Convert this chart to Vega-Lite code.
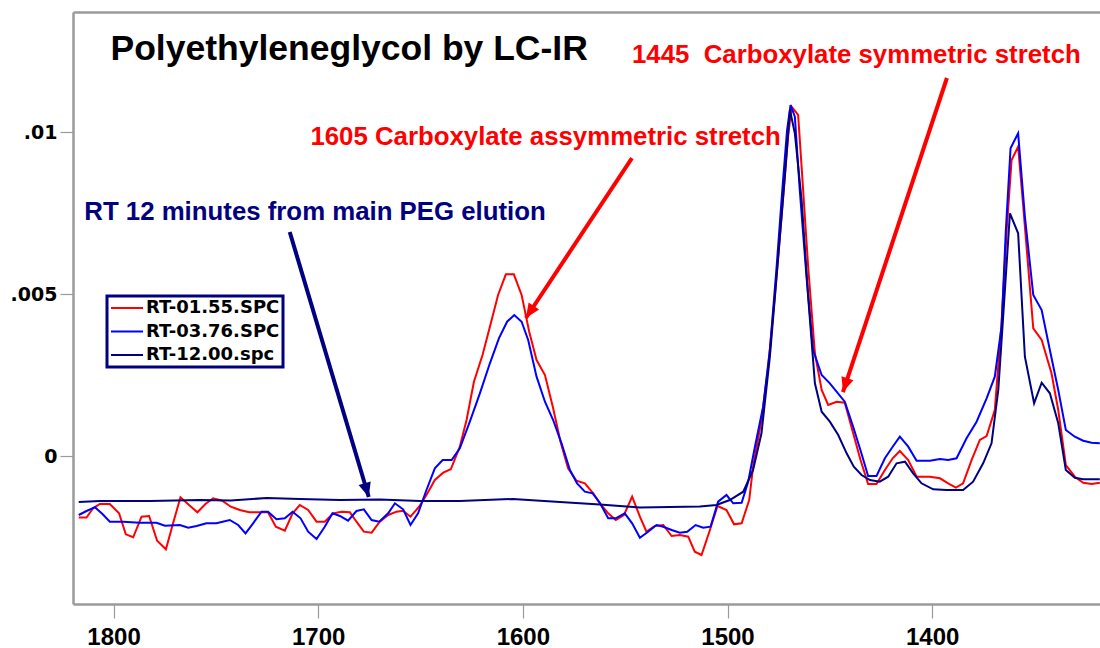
{
"$schema": "https://vega.github.io/schema/vega-lite/v6.json",
"width": 1027, "height": 592,
"autosize": {"type": "none"},
"padding": {"left": 73, "top": 12, "right": 0, "bottom": 44},
"background": "white",
"datasets": {
"spectra": [
{"wn":1817.0,"abs":-0.0019,"series":"RT-01.55.SPC"},{"wn":1813.2,"abs":-0.0019,"series":"RT-01.55.SPC"},{"wn":1810.0,"abs":-0.001614,"series":"RT-01.55.SPC"},{"wn":1806.7,"abs":-0.001481,"series":"RT-01.55.SPC"},{"wn":1801.8,"abs":-0.00148,"series":"RT-01.55.SPC"},{"wn":1797.3,"abs":-0.001769,"series":"RT-01.55.SPC"},{"wn":1794.0,"abs":-0.002417,"series":"RT-01.55.SPC"},{"wn":1790.4,"abs":-0.002509,"series":"RT-01.55.SPC"},{"wn":1786.3,"abs":-0.001873,"series":"RT-01.55.SPC"},{"wn":1782.6,"abs":-0.001852,"series":"RT-01.55.SPC"},{"wn":1778.7,"abs":-0.002614,"series":"RT-01.55.SPC"},{"wn":1774.4,"abs":-0.00288,"series":"RT-01.55.SPC"},{"wn":1770.9,"abs":-0.002077,"series":"RT-01.55.SPC"},{"wn":1767.3,"abs":-0.001275,"series":"RT-01.55.SPC"},{"wn":1763.1,"abs":-0.001512,"series":"RT-01.55.SPC"},{"wn":1759.0,"abs":-0.001738,"series":"RT-01.55.SPC"},{"wn":1755.1,"abs":-0.001481,"series":"RT-01.55.SPC"},{"wn":1751.3,"abs":-0.001306,"series":"RT-01.55.SPC"},{"wn":1746.9,"abs":-0.00138,"series":"RT-01.55.SPC"},{"wn":1742.7,"abs":-0.001565,"series":"RT-01.55.SPC"},{"wn":1738.3,"abs":-0.001667,"series":"RT-01.55.SPC"},{"wn":1733.7,"abs":-0.001738,"series":"RT-01.55.SPC"},{"wn":1728.5,"abs":-0.001738,"series":"RT-01.55.SPC"},{"wn":1724.5,"abs":-0.001738,"series":"RT-01.55.SPC"},{"wn":1720.7,"abs":-0.002182,"series":"RT-01.55.SPC"},{"wn":1716.3,"abs":-0.002306,"series":"RT-01.55.SPC"},{"wn":1712.5,"abs":-0.001769,"series":"RT-01.55.SPC"},{"wn":1709.0,"abs":-0.001512,"series":"RT-01.55.SPC"},{"wn":1704.9,"abs":-0.001667,"series":"RT-01.55.SPC"},{"wn":1700.8,"abs":-0.002028,"series":"RT-01.55.SPC"},{"wn":1696.8,"abs":-0.002028,"series":"RT-01.55.SPC"},{"wn":1692.7,"abs":-0.001769,"series":"RT-01.55.SPC"},{"wn":1688.6,"abs":-0.001719,"series":"RT-01.55.SPC"},{"wn":1684.5,"abs":-0.001738,"series":"RT-01.55.SPC"},{"wn":1681.3,"abs":-0.002028,"series":"RT-01.55.SPC"},{"wn":1677.7,"abs":-0.002336,"series":"RT-01.55.SPC"},{"wn":1673.9,"abs":-0.002367,"series":"RT-01.55.SPC"},{"wn":1669.9,"abs":-0.002028,"series":"RT-01.55.SPC"},{"wn":1665.8,"abs":-0.001821,"series":"RT-01.55.SPC"},{"wn":1661.7,"abs":-0.001719,"series":"RT-01.55.SPC"},{"wn":1658.5,"abs":-0.001688,"series":"RT-01.55.SPC"},{"wn":1654.9,"abs":-0.001873,"series":"RT-01.55.SPC"},{"wn":1650.7,"abs":-0.001565,"series":"RT-01.55.SPC"},{"wn":1647.1,"abs":-0.001204,"series":"RT-01.55.SPC"},{"wn":1643.0,"abs":-0.000741,"series":"RT-01.55.SPC"},{"wn":1638.9,"abs":-0.000515,"series":"RT-01.55.SPC"},{"wn":1635.2,"abs":-0.00041,"series":"RT-01.55.SPC"},{"wn":1630.8,"abs":0.000287,"series":"RT-01.55.SPC"},{"wn":1627.5,"abs":0.001111,"series":"RT-01.55.SPC"},{"wn":1623.9,"abs":0.002293,"series":"RT-01.55.SPC"},{"wn":1619.7,"abs":0.003117,"series":"RT-01.55.SPC"},{"wn":1616.1,"abs":0.003991,"series":"RT-01.55.SPC"},{"wn":1612.1,"abs":0.004969,"series":"RT-01.55.SPC"},{"wn":1608.3,"abs":0.005608,"series":"RT-01.55.SPC"},{"wn":1604.4,"abs":0.005608,"series":"RT-01.55.SPC"},{"wn":1600.6,"abs":0.004969,"series":"RT-01.55.SPC"},{"wn":1596.9,"abs":0.003836,"series":"RT-01.55.SPC"},{"wn":1593.3,"abs":0.002963,"series":"RT-01.55.SPC"},{"wn":1589.2,"abs":0.0025,"series":"RT-01.55.SPC"},{"wn":1585.2,"abs":0.001472,"series":"RT-01.55.SPC"},{"wn":1581.6,"abs":0.000441,"series":"RT-01.55.SPC"},{"wn":1577.9,"abs":-0.00038,"series":"RT-01.55.SPC"},{"wn":1573.8,"abs":-0.000762,"series":"RT-01.55.SPC"},{"wn":1569.7,"abs":-0.000843,"series":"RT-01.55.SPC"},{"wn":1565.6,"abs":-0.001151,"series":"RT-01.55.SPC"},{"wn":1562.4,"abs":-0.00146,"series":"RT-01.55.SPC"},{"wn":1558.3,"abs":-0.001769,"series":"RT-01.55.SPC"},{"wn":1554.6,"abs":-0.001975,"series":"RT-01.55.SPC"},{"wn":1550.6,"abs":-0.001821,"series":"RT-01.55.SPC"},{"wn":1546.6,"abs":-0.001256,"series":"RT-01.55.SPC"},{"wn":1542.8,"abs":-0.001873,"series":"RT-01.55.SPC"},{"wn":1539.6,"abs":-0.002336,"series":"RT-01.55.SPC"},{"wn":1535.5,"abs":-0.00216,"series":"RT-01.55.SPC"},{"wn":1531.4,"abs":-0.00213,"series":"RT-01.55.SPC"},{"wn":1527.3,"abs":-0.002469,"series":"RT-01.55.SPC"},{"wn":1523.3,"abs":-0.002438,"series":"RT-01.55.SPC"},{"wn":1519.2,"abs":-0.002491,"series":"RT-01.55.SPC"},{"wn":1516.0,"abs":-0.002954,"series":"RT-01.55.SPC"},{"wn":1512.7,"abs":-0.003056,"series":"RT-01.55.SPC"},{"wn":1508.6,"abs":-0.002284,"series":"RT-01.55.SPC"},{"wn":1504.9,"abs":-0.001543,"series":"RT-01.55.SPC"},{"wn":1500.5,"abs":-0.001667,"series":"RT-01.55.SPC"},{"wn":1496.8,"abs":-0.002108,"series":"RT-01.55.SPC"},{"wn":1493.1,"abs":-0.002077,"series":"RT-01.55.SPC"},{"wn":1489.4,"abs":-0.001358,"series":"RT-01.55.SPC"},{"wn":1487.5,"abs":-0.00033,"series":"RT-01.55.SPC"},{"wn":1483.4,"abs":0.001111,"series":"RT-01.55.SPC"},{"wn":1480.1,"abs":0.002756,"series":"RT-01.55.SPC"},{"wn":1476.9,"abs":0.004917,"series":"RT-01.55.SPC"},{"wn":1473.6,"abs":0.007386,"series":"RT-01.55.SPC"},{"wn":1470.4,"abs":0.009855,"series":"RT-01.55.SPC"},{"wn":1468.7,"abs":0.010781,"series":"RT-01.55.SPC"},{"wn":1465.5,"abs":0.010525,"series":"RT-01.55.SPC"},{"wn":1463.8,"abs":0.008929,"series":"RT-01.55.SPC"},{"wn":1460.6,"abs":0.005843,"series":"RT-01.55.SPC"},{"wn":1457.3,"abs":0.00317,"series":"RT-01.55.SPC"},{"wn":1454.0,"abs":0.002037,"series":"RT-01.55.SPC"},{"wn":1450.8,"abs":0.001574,"series":"RT-01.55.SPC"},{"wn":1446.7,"abs":0.001676,"series":"RT-01.55.SPC"},{"wn":1442.7,"abs":0.001645,"series":"RT-01.55.SPC"},{"wn":1438.6,"abs":0.000701,"series":"RT-01.55.SPC"},{"wn":1435.0,"abs":-0.000123,"series":"RT-01.55.SPC"},{"wn":1431.3,"abs":-0.000864,"series":"RT-01.55.SPC"},{"wn":1427.2,"abs":-0.000864,"series":"RT-01.55.SPC"},{"wn":1423.1,"abs":-0.000432,"series":"RT-01.55.SPC"},{"wn":1419.3,"abs":-0.000071,"series":"RT-01.55.SPC"},{"wn":1415.8,"abs":0.000154,"series":"RT-01.55.SPC"},{"wn":1411.7,"abs":-0.000123,"series":"RT-01.55.SPC"},{"wn":1407.6,"abs":-0.000639,"series":"RT-01.55.SPC"},{"wn":1401.1,"abs":-0.000639,"series":"RT-01.55.SPC"},{"wn":1396.2,"abs":-0.000688,"series":"RT-01.55.SPC"},{"wn":1392.2,"abs":-0.000843,"series":"RT-01.55.SPC"},{"wn":1388.4,"abs":-0.000978,"series":"RT-01.55.SPC"},{"wn":1384.9,"abs":-0.000843,"series":"RT-01.55.SPC"},{"wn":1380.7,"abs":-0.000123,"series":"RT-01.55.SPC"},{"wn":1376.7,"abs":0.000494,"series":"RT-01.55.SPC"},{"wn":1373.4,"abs":0.000617,"series":"RT-01.55.SPC"},{"wn":1369.4,"abs":0.00142,"series":"RT-01.55.SPC"},{"wn":1366.1,"abs":0.004096,"series":"RT-01.55.SPC"},{"wn":1363.6,"abs":0.006975,"series":"RT-01.55.SPC"},{"wn":1361.2,"abs":0.009136,"series":"RT-01.55.SPC"},{"wn":1358.0,"abs":0.009546,"series":"RT-01.55.SPC"},{"wn":1355.5,"abs":0.007694,"series":"RT-01.55.SPC"},{"wn":1350.6,"abs":0.003941,"series":"RT-01.55.SPC"},{"wn":1346.5,"abs":0.00358,"series":"RT-01.55.SPC"},{"wn":1341.7,"abs":0.002552,"series":"RT-01.55.SPC"},{"wn":1338.4,"abs":0.00142,"series":"RT-01.55.SPC"},{"wn":1334.7,"abs":-0.000278,"series":"RT-01.55.SPC"},{"wn":1330.3,"abs":-0.000639,"series":"RT-01.55.SPC"},{"wn":1326.2,"abs":-0.000824,"series":"RT-01.55.SPC"},{"wn":1322.1,"abs":-0.000864,"series":"RT-01.55.SPC"},{"wn":1318.1,"abs":-0.000824,"series":"RT-01.55.SPC"},
{"wn":1817.0,"abs":-0.001821,"series":"RT-03.76.SPC"},{"wn":1813.2,"abs":-0.001698,"series":"RT-03.76.SPC"},{"wn":1809.1,"abs":-0.001583,"series":"RT-03.76.SPC"},{"wn":1805.4,"abs":-0.00179,"series":"RT-03.76.SPC"},{"wn":1801.8,"abs":-0.002028,"series":"RT-03.76.SPC"},{"wn":1795.3,"abs":-0.002028,"series":"RT-03.76.SPC"},{"wn":1787.2,"abs":-0.002059,"series":"RT-03.76.SPC"},{"wn":1779.0,"abs":-0.002059,"series":"RT-03.76.SPC"},{"wn":1774.9,"abs":-0.002151,"series":"RT-03.76.SPC"},{"wn":1767.6,"abs":-0.00213,"series":"RT-03.76.SPC"},{"wn":1763.5,"abs":-0.002213,"series":"RT-03.76.SPC"},{"wn":1759.4,"abs":-0.00216,"series":"RT-03.76.SPC"},{"wn":1754.6,"abs":-0.002077,"series":"RT-03.76.SPC"},{"wn":1749.7,"abs":-0.002077,"series":"RT-03.76.SPC"},{"wn":1743.2,"abs":-0.001975,"series":"RT-03.76.SPC"},{"wn":1739.1,"abs":-0.00213,"series":"RT-03.76.SPC"},{"wn":1735.5,"abs":-0.002386,"series":"RT-03.76.SPC"},{"wn":1731.8,"abs":-0.002077,"series":"RT-03.76.SPC"},{"wn":1727.7,"abs":-0.001719,"series":"RT-03.76.SPC"},{"wn":1724.5,"abs":-0.001719,"series":"RT-03.76.SPC"},{"wn":1720.4,"abs":-0.001954,"series":"RT-03.76.SPC"},{"wn":1716.3,"abs":-0.001923,"series":"RT-03.76.SPC"},{"wn":1712.5,"abs":-0.001719,"series":"RT-03.76.SPC"},{"wn":1708.6,"abs":-0.001923,"series":"RT-03.76.SPC"},{"wn":1704.9,"abs":-0.002336,"series":"RT-03.76.SPC"},{"wn":1700.8,"abs":-0.002562,"series":"RT-03.76.SPC"},{"wn":1696.8,"abs":-0.002182,"series":"RT-03.76.SPC"},{"wn":1693.0,"abs":-0.001769,"series":"RT-03.76.SPC"},{"wn":1689.4,"abs":-0.001852,"series":"RT-03.76.SPC"},{"wn":1685.4,"abs":-0.001997,"series":"RT-03.76.SPC"},{"wn":1681.3,"abs":-0.001698,"series":"RT-03.76.SPC"},{"wn":1677.7,"abs":-0.001645,"series":"RT-03.76.SPC"},{"wn":1673.9,"abs":-0.001975,"series":"RT-03.76.SPC"},{"wn":1670.2,"abs":-0.002028,"series":"RT-03.76.SPC"},{"wn":1665.8,"abs":-0.001769,"series":"RT-03.76.SPC"},{"wn":1662.5,"abs":-0.00146,"series":"RT-03.76.SPC"},{"wn":1658.5,"abs":-0.001645,"series":"RT-03.76.SPC"},{"wn":1654.9,"abs":-0.00213,"series":"RT-03.76.SPC"},{"wn":1651.2,"abs":-0.001769,"series":"RT-03.76.SPC"},{"wn":1647.1,"abs":-0.001049,"series":"RT-03.76.SPC"},{"wn":1643.0,"abs":-0.00038,"series":"RT-03.76.SPC"},{"wn":1639.2,"abs":-0.000123,"series":"RT-03.76.SPC"},{"wn":1634.8,"abs":-0.000123,"series":"RT-03.76.SPC"},{"wn":1630.8,"abs":0.000238,"series":"RT-03.76.SPC"},{"wn":1625.9,"abs":0.001059,"series":"RT-03.76.SPC"},{"wn":1621.0,"abs":0.001935,"series":"RT-03.76.SPC"},{"wn":1616.1,"abs":0.002861,"series":"RT-03.76.SPC"},{"wn":1611.7,"abs":0.003633,"series":"RT-03.76.SPC"},{"wn":1607.7,"abs":0.004145,"series":"RT-03.76.SPC"},{"wn":1604.2,"abs":0.004352,"series":"RT-03.76.SPC"},{"wn":1600.6,"abs":0.004145,"series":"RT-03.76.SPC"},{"wn":1597.4,"abs":0.00358,"series":"RT-03.76.SPC"},{"wn":1593.3,"abs":0.002448,"series":"RT-03.76.SPC"},{"wn":1589.2,"abs":0.001676,"series":"RT-03.76.SPC"},{"wn":1585.2,"abs":0.001111,"series":"RT-03.76.SPC"},{"wn":1581.1,"abs":0.000392,"series":"RT-03.76.SPC"},{"wn":1577.0,"abs":-0.000432,"series":"RT-03.76.SPC"},{"wn":1573.5,"abs":-0.000843,"series":"RT-03.76.SPC"},{"wn":1569.7,"abs":-0.001102,"series":"RT-03.76.SPC"},{"wn":1565.9,"abs":-0.001151,"series":"RT-03.76.SPC"},{"wn":1562.4,"abs":-0.001441,"series":"RT-03.76.SPC"},{"wn":1558.3,"abs":-0.001923,"series":"RT-03.76.SPC"},{"wn":1554.6,"abs":-0.001923,"series":"RT-03.76.SPC"},{"wn":1550.2,"abs":-0.001769,"series":"RT-03.76.SPC"},{"wn":1546.6,"abs":-0.002077,"series":"RT-03.76.SPC"},{"wn":1542.8,"abs":-0.002522,"series":"RT-03.76.SPC"},{"wn":1538.8,"abs":-0.002336,"series":"RT-03.76.SPC"},{"wn":1534.7,"abs":-0.00213,"series":"RT-03.76.SPC"},{"wn":1531.4,"abs":-0.002182,"series":"RT-03.76.SPC"},{"wn":1527.3,"abs":-0.002284,"series":"RT-03.76.SPC"},{"wn":1523.3,"abs":-0.002367,"series":"RT-03.76.SPC"},{"wn":1519.7,"abs":-0.002336,"series":"RT-03.76.SPC"},{"wn":1515.6,"abs":-0.00213,"series":"RT-03.76.SPC"},{"wn":1511.9,"abs":-0.002213,"series":"RT-03.76.SPC"},{"wn":1508.3,"abs":-0.002182,"series":"RT-03.76.SPC"},{"wn":1504.6,"abs":-0.00141,"series":"RT-03.76.SPC"},{"wn":1500.5,"abs":-0.001204,"series":"RT-03.76.SPC"},{"wn":1497.2,"abs":-0.00146,"series":"RT-03.76.SPC"},{"wn":1493.1,"abs":-0.001441,"series":"RT-03.76.SPC"},{"wn":1489.9,"abs":-0.000793,"series":"RT-03.76.SPC"},{"wn":1486.6,"abs":0.000287,"series":"RT-03.76.SPC"},{"wn":1482.6,"abs":0.001522,"series":"RT-03.76.SPC"},{"wn":1479.3,"abs":0.003272,"series":"RT-03.76.SPC"},{"wn":1476.0,"abs":0.005843,"series":"RT-03.76.SPC"},{"wn":1473.1,"abs":0.008312,"series":"RT-03.76.SPC"},{"wn":1470.9,"abs":0.010062,"series":"RT-03.76.SPC"},{"wn":1469.2,"abs":0.010833,"series":"RT-03.76.SPC"},{"wn":1467.1,"abs":0.010472,"series":"RT-03.76.SPC"},{"wn":1464.7,"abs":0.00821,"series":"RT-03.76.SPC"},{"wn":1461.4,"abs":0.005534,"series":"RT-03.76.SPC"},{"wn":1458.2,"abs":0.003272,"series":"RT-03.76.SPC"},{"wn":1454.0,"abs":0.0025,"series":"RT-03.76.SPC"},{"wn":1450.0,"abs":0.002244,"series":"RT-03.76.SPC"},{"wn":1442.7,"abs":0.001676,"series":"RT-03.76.SPC"},{"wn":1438.6,"abs":0.000904,"series":"RT-03.76.SPC"},{"wn":1434.8,"abs":0.000133,"series":"RT-03.76.SPC"},{"wn":1431.3,"abs":-0.000617,"series":"RT-03.76.SPC"},{"wn":1427.2,"abs":-0.000617,"series":"RT-03.76.SPC"},{"wn":1423.1,"abs":-0.000071,"series":"RT-03.76.SPC"},{"wn":1419.3,"abs":0.000287,"series":"RT-03.76.SPC"},{"wn":1415.8,"abs":0.000596,"series":"RT-03.76.SPC"},{"wn":1411.7,"abs":0.000287,"series":"RT-03.76.SPC"},{"wn":1407.6,"abs":-0.000145,"series":"RT-03.76.SPC"},{"wn":1401.1,"abs":-0.000145,"series":"RT-03.76.SPC"},{"wn":1396.2,"abs":-0.000093,"series":"RT-03.76.SPC"},{"wn":1392.2,"abs":-0.000123,"series":"RT-03.76.SPC"},{"wn":1388.1,"abs":-0.000071,"series":"RT-03.76.SPC"},{"wn":1383.2,"abs":0.000546,"series":"RT-03.76.SPC"},{"wn":1378.3,"abs":0.001059,"series":"RT-03.76.SPC"},{"wn":1373.4,"abs":0.001781,"series":"RT-03.76.SPC"},{"wn":1369.4,"abs":0.002448,"series":"RT-03.76.SPC"},{"wn":1366.1,"abs":0.003991,"series":"RT-03.76.SPC"},{"wn":1364.0,"abs":0.006975,"series":"RT-03.76.SPC"},{"wn":1361.7,"abs":0.009497,"series":"RT-03.76.SPC"},{"wn":1358.0,"abs":0.00996,"series":"RT-03.76.SPC"},{"wn":1354.7,"abs":0.007386,"series":"RT-03.76.SPC"},{"wn":1350.6,"abs":0.004969,"series":"RT-03.76.SPC"},{"wn":1346.5,"abs":0.004506,"series":"RT-03.76.SPC"},{"wn":1342.5,"abs":0.003272,"series":"RT-03.76.SPC"},{"wn":1338.4,"abs":0.002037,"series":"RT-03.76.SPC"},{"wn":1334.7,"abs":0.000802,"series":"RT-03.76.SPC"},{"wn":1330.3,"abs":0.000596,"series":"RT-03.76.SPC"},{"wn":1326.2,"abs":0.000472,"series":"RT-03.76.SPC"},{"wn":1322.1,"abs":0.00041,"series":"RT-03.76.SPC"},{"wn":1318.1,"abs":0.000392,"series":"RT-03.76.SPC"},
{"wn":1817.0,"abs":-0.00142,"series":"RT-12.00.spc"},{"wn":1806.7,"abs":-0.001389,"series":"RT-12.00.spc"},{"wn":1782.3,"abs":-0.001389,"series":"RT-12.00.spc"},{"wn":1757.8,"abs":-0.001358,"series":"RT-12.00.spc"},{"wn":1742.7,"abs":-0.001373,"series":"RT-12.00.spc"},{"wn":1725.1,"abs":-0.001296,"series":"RT-12.00.spc"},{"wn":1709.0,"abs":-0.001327,"series":"RT-12.00.spc"},{"wn":1689.4,"abs":-0.001358,"series":"RT-12.00.spc"},{"wn":1669.9,"abs":-0.001343,"series":"RT-12.00.spc"},{"wn":1650.3,"abs":-0.001389,"series":"RT-12.00.spc"},{"wn":1630.8,"abs":-0.001389,"series":"RT-12.00.spc"},{"wn":1604.9,"abs":-0.001327,"series":"RT-12.00.spc"},{"wn":1581.9,"abs":-0.00142,"series":"RT-12.00.spc"},{"wn":1562.4,"abs":-0.001497,"series":"RT-12.00.spc"},{"wn":1542.8,"abs":-0.001589,"series":"RT-12.00.spc"},{"wn":1513.5,"abs":-0.001559,"series":"RT-12.00.spc"},{"wn":1505.4,"abs":-0.001512,"series":"RT-12.00.spc"},{"wn":1498.9,"abs":-0.001358,"series":"RT-12.00.spc"},{"wn":1492.3,"abs":-0.001102,"series":"RT-12.00.spc"},{"wn":1487.5,"abs":-0.000432,"series":"RT-12.00.spc"},{"wn":1483.4,"abs":0.000701,"series":"RT-12.00.spc"},{"wn":1479.3,"abs":0.003065,"series":"RT-12.00.spc"},{"wn":1475.2,"abs":0.006151,"series":"RT-12.00.spc"},{"wn":1472.0,"abs":0.00862,"series":"RT-12.00.spc"},{"wn":1469.5,"abs":0.010679,"series":"RT-12.00.spc"},{"wn":1467.1,"abs":0.00996,"series":"RT-12.00.spc"},{"wn":1463.8,"abs":0.007901,"series":"RT-12.00.spc"},{"wn":1460.6,"abs":0.004917,"series":"RT-12.00.spc"},{"wn":1457.3,"abs":0.002244,"series":"RT-12.00.spc"},{"wn":1454.0,"abs":0.001367,"series":"RT-12.00.spc"},{"wn":1450.0,"abs":0.001059,"series":"RT-12.00.spc"},{"wn":1445.9,"abs":0.000648,"series":"RT-12.00.spc"},{"wn":1441.8,"abs":0.000083,"series":"RT-12.00.spc"},{"wn":1438.3,"abs":-0.00033,"series":"RT-12.00.spc"},{"wn":1434.5,"abs":-0.000586,"series":"RT-12.00.spc"},{"wn":1430.4,"abs":-0.000741,"series":"RT-12.00.spc"},{"wn":1425.6,"abs":-0.000793,"series":"RT-12.00.spc"},{"wn":1421.5,"abs":-0.000639,"series":"RT-12.00.spc"},{"wn":1417.4,"abs":-0.000225,"series":"RT-12.00.spc"},{"wn":1413.3,"abs":-0.000176,"series":"RT-12.00.spc"},{"wn":1409.3,"abs":-0.000534,"series":"RT-12.00.spc"},{"wn":1405.2,"abs":-0.000843,"series":"RT-12.00.spc"},{"wn":1399.5,"abs":-0.001028,"series":"RT-12.00.spc"},{"wn":1393.0,"abs":-0.001049,"series":"RT-12.00.spc"},{"wn":1384.9,"abs":-0.001049,"series":"RT-12.00.spc"},{"wn":1380.0,"abs":-0.000793,"series":"RT-12.00.spc"},{"wn":1375.1,"abs":-0.000225,"series":"RT-12.00.spc"},{"wn":1371.0,"abs":0.000392,"series":"RT-12.00.spc"},{"wn":1367.7,"abs":0.002037,"series":"RT-12.00.spc"},{"wn":1365.0,"abs":0.004608,"series":"RT-12.00.spc"},{"wn":1362.0,"abs":0.007491,"series":"RT-12.00.spc"},{"wn":1358.0,"abs":0.006873,"series":"RT-12.00.spc"},{"wn":1354.7,"abs":0.003065,"series":"RT-12.00.spc"},{"wn":1350.2,"abs":0.001627,"series":"RT-12.00.spc"},{"wn":1346.5,"abs":0.002262,"series":"RT-12.00.spc"},{"wn":1342.5,"abs":0.001935,"series":"RT-12.00.spc"},{"wn":1338.4,"abs":0.001009,"series":"RT-12.00.spc"},{"wn":1334.7,"abs":-0.000432,"series":"RT-12.00.spc"},{"wn":1330.3,"abs":-0.00067,"series":"RT-12.00.spc"},{"wn":1326.2,"abs":-0.000719,"series":"RT-12.00.spc"},{"wn":1318.1,"abs":-0.000719,"series":"RT-12.00.spc"}
],
"title": [{"label": "Polyethyleneglycol by LC-IR", "wn": 1801.5, "abs": 0.012222}],
"notes": [
{"note": "1445", "label": "1445 \u00a0Carboxylate symmetric stretch", "wn": 1546.7, "abs": 0.01213, "series": "RT-01.55.SPC"},
{"note": "1605", "label": "1605 Carboxylate assymmetric stretch", "wn": 1703.8, "abs": 0.009599, "series": "RT-01.55.SPC"},
{"note": "RT12", "label": "RT 12 minutes from main PEG elution", "wn": 1814.3, "abs": 0.007284, "series": "RT-12.00.spc"}
],
"arrows": [
{"note": "1605", "series": "RT-01.55.SPC", "fromWn": 1546.7, "fromAbs": 0.009197, "toWn": 1598.5, "toAbs": 0.004259},
{"note": "1445", "series": "RT-01.55.SPC", "fromWn": 1392.8, "fromAbs": 0.011667, "toWn": 1443.6, "toAbs": 0.001975},
{"note": "RT12", "series": "RT-12.00.spc", "fromWn": 1713.9, "fromAbs": 0.006914, "toWn": 1675.3, "toAbs": -0.001265}
]
},
"layer": [
{
"data": {"name": "spectra"},
"mark": {"type": "line", "strokeWidth": 2, "clip": true},
"encoding": {
"x": {"field": "wn", "type": "quantitative",
 "scale": {"domain": [1318.0, 1819.8], "reverse": true, "nice": false, "zero": false},
 "axis": {"orient": "bottom", "values": [1800, 1700, 1600, 1500, 1400], "format": "d", "title": null, "grid": false,
  "labelFont": "Liberation Sans", "labelFontSize": 24, "labelFontWeight": "bold", "labelColor": "#000000",
  "tickSize": 14, "tickWidth": 1.2, "tickColor": "#9a9a9a", "labelPadding": 7, "labelFlush": false, "labelOverlap": false,
  "domainColor": "#9a9a9a", "domainWidth": 2.5}},
"y": {"field": "abs", "type": "quantitative",
 "scale": {"domain": [-0.004568, 0.013704], "nice": false, "zero": false},
 "axis": {"values": [0, 0.005, 0.01], "title": null, "grid": false,
  "labelExpr": "datum.value == 0 ? '0' : replace(format(datum.value, '.3~f'), '0.', '.')",
  "labelFont": "DejaVu Sans", "labelFontSize": 19, "labelFontWeight": "bold", "labelColor": "#000000",
  "tickSize": 13, "tickWidth": 1.2, "tickColor": "#9a9a9a", "labelPadding": 3,
  "domainColor": "#9a9a9a", "domainWidth": 2.5}},
"color": {"field": "series", "type": "nominal",
 "scale": {"domain": ["RT-01.55.SPC", "RT-03.76.SPC", "RT-12.00.spc"], "range": ["#ff0000", "#0000ff", "#000080"]},
 "legend": {"title": null, "orient": "none", "legendX": 34, "legendY": 284,
  "symbolType": "stroke", "symbolSize": 1024, "symbolStrokeWidth": 2,
  "labelFont": "DejaVu Sans", "labelFontSize": 18, "labelFontWeight": "bold", "labelColor": "#000000",
  "labelOffset": 2, "clipHeight": 18, "rowPadding": 5.5, "padding": 3,
  "strokeColor": "#000080", "fillColor": "#ffffff",
  "encode": {"legend": {"update": {"strokeWidth": {"value": 3}}}}}}
}
},
{
"data": {"name": "title"},
"mark": {"type": "text", "align": "left", "baseline": "alphabetic", "font": "Liberation Sans", "fontSize": 35.5, "fontWeight": "bold", "color": "#000000"},
"encoding": {
"x": {"field": "wn", "type": "quantitative",
 "axis": {"orient": "top", "labels": false, "ticks": false, "domain": true, "grid": false, "title": null, "domainColor": "#9a9a9a", "domainWidth": 2.5}},
"y": {"field": "abs", "type": "quantitative"},
"text": {"field": "label"}
}
},
{
"data": {"name": "notes"},
"mark": {"type": "text", "align": "left", "baseline": "alphabetic", "font": "Liberation Sans", "fontSize": 25.8, "fontWeight": "bold"},
"encoding": {
"x": {"field": "wn", "type": "quantitative", "axis": null},
"y": {"field": "abs", "type": "quantitative"},
"text": {"field": "label"},
"color": {"field": "series", "type": "nominal", "legend": null}
}
},
{
"data": {"name": "arrows"},
"mark": {"type": "rule", "strokeWidth": 4},
"encoding": {
"x": {"field": "fromWn", "type": "quantitative", "axis": null},
"y": {"field": "fromAbs", "type": "quantitative"},
"x2": {"field": "toWn"},
"y2": {"field": "toAbs"},
"color": {"field": "series", "type": "nominal", "legend": null}
}
},
{
"data": {"name": "arrows"},
"transform": [{"filter": "datum.note == '1605'"}],
"mark": {"type": "point", "shape": "M0,0L-0.7,-1.6L0.7,-1.6Z", "size": 324, "filled": true, "opacity": 1, "angle": 33.5, "strokeWidth": 0},
"encoding": {
"x": {"field": "toWn", "type": "quantitative", "axis": null},
"y": {"field": "toAbs", "type": "quantitative"},
"color": {"field": "series", "type": "nominal", "legend": null}
}
},
{
"data": {"name": "arrows"},
"transform": [{"filter": "datum.note == '1445'"}],
"mark": {"type": "point", "shape": "M0,0L-0.7,-1.6L0.7,-1.6Z", "size": 324, "filled": true, "opacity": 1, "angle": 18.3, "strokeWidth": 0},
"encoding": {
"x": {"field": "toWn", "type": "quantitative", "axis": null},
"y": {"field": "toAbs", "type": "quantitative"},
"color": {"field": "series", "type": "nominal", "legend": null}
}
},
{
"data": {"name": "arrows"},
"transform": [{"filter": "datum.note == 'RT12'"}],
"mark": {"type": "point", "shape": "M0,0L-0.7,-1.6L0.7,-1.6Z", "size": 324, "filled": true, "opacity": 1, "angle": -16.6, "strokeWidth": 0},
"encoding": {
"x": {"field": "toWn", "type": "quantitative", "axis": null},
"y": {"field": "toAbs", "type": "quantitative"},
"color": {"field": "series", "type": "nominal", "legend": null}
}
}
],
"resolve": {"axis": {"x": "independent"}},
"config": {"view": {"stroke": null}, "axis": {"grid": false}}
}
